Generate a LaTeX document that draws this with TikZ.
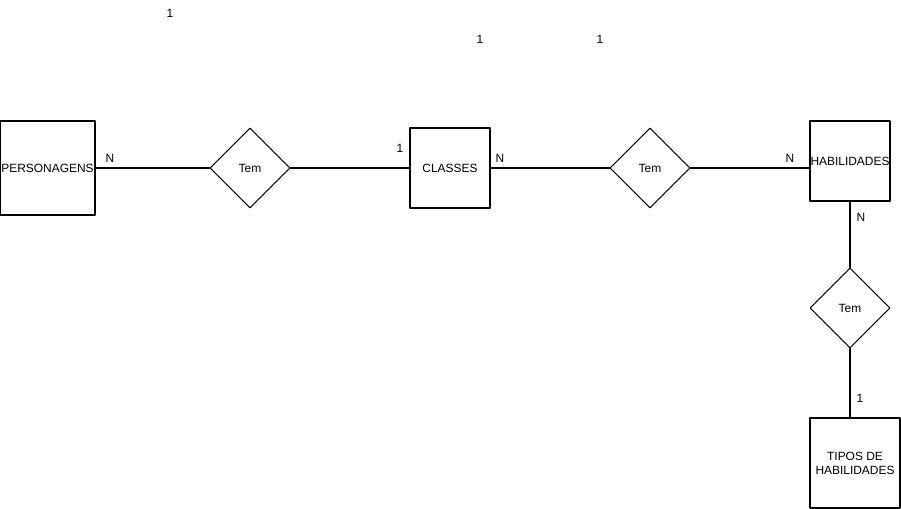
\documentclass[tikz,border=0pt]{standalone}
\usepackage{fontspec}
\setmainfont{Liberation Sans}
\usetikzlibrary{shapes.geometric}
\begin{document}
\begin{tikzpicture}[x=0.02cm, y=-0.02cm, font=\fontsize{6.8}{8}\selectfont, line join=round, line cap=round,
	entity/.style={draw, line width=0.6pt, minimum width=1.6cm, minimum height=1.6cm, inner sep=0pt, align=center},
	relation/.style={draw, diamond, line width=0.6pt, minimum width=1.6cm, minimum height=1.6cm, inner sep=0pt},
	link/.style={line width=0.6pt},
	card/.style={inner sep=0pt}]
		\useasboundingbox (0,0) rectangle (901,509);
		\node[entity, minimum width=1.9cm, minimum height=1.88cm] (pers) at (47.5,168) {PERSONAGENS};
		\node[relation] (tem1) at (250,168) {Tem};
		\node[entity] (classes) at (450,168) {CLASSES};
		\node[relation] (tem2) at (650,168) {Tem};
		\node[entity] (habil) at (850,161) {HABILIDADES};
		\node[relation] (tem3) at (850,308) {Tem};
		\node[entity, minimum width=1.8cm, minimum height=1.8cm] (tipos) at (855,463) {TIPOS DE\\HABILIDADES};
		\draw[link] (pers) -- (tem1);
		\draw[link] (tem1) -- (classes);
		\draw[link] (classes) -- (tem2);
		\draw[link] (tem2.east) -- (tem2.east -| habil.west);
		\draw[link] (habil) -- (tem3);
		\draw[link] (tem3.south) -- (tem3.south |- tipos.north);
		\node[card] (c1) at (110,158) {N};
		\node[card] (c2) at (400,148) {1};
		\node[card] (c3) at (500,158) {N};
		\node[card] (c4) at (790,158) {N};
		\node[card] (c5) at (861,217) {N};
		\node[card] (c6) at (860,398) {1};
		\node[card] (c7) at (170,13) {1};
		\node[card] (c8) at (480,39) {1};
		\node[card] (c9) at (600,39) {1};
	\end{tikzpicture}
\end{document}
